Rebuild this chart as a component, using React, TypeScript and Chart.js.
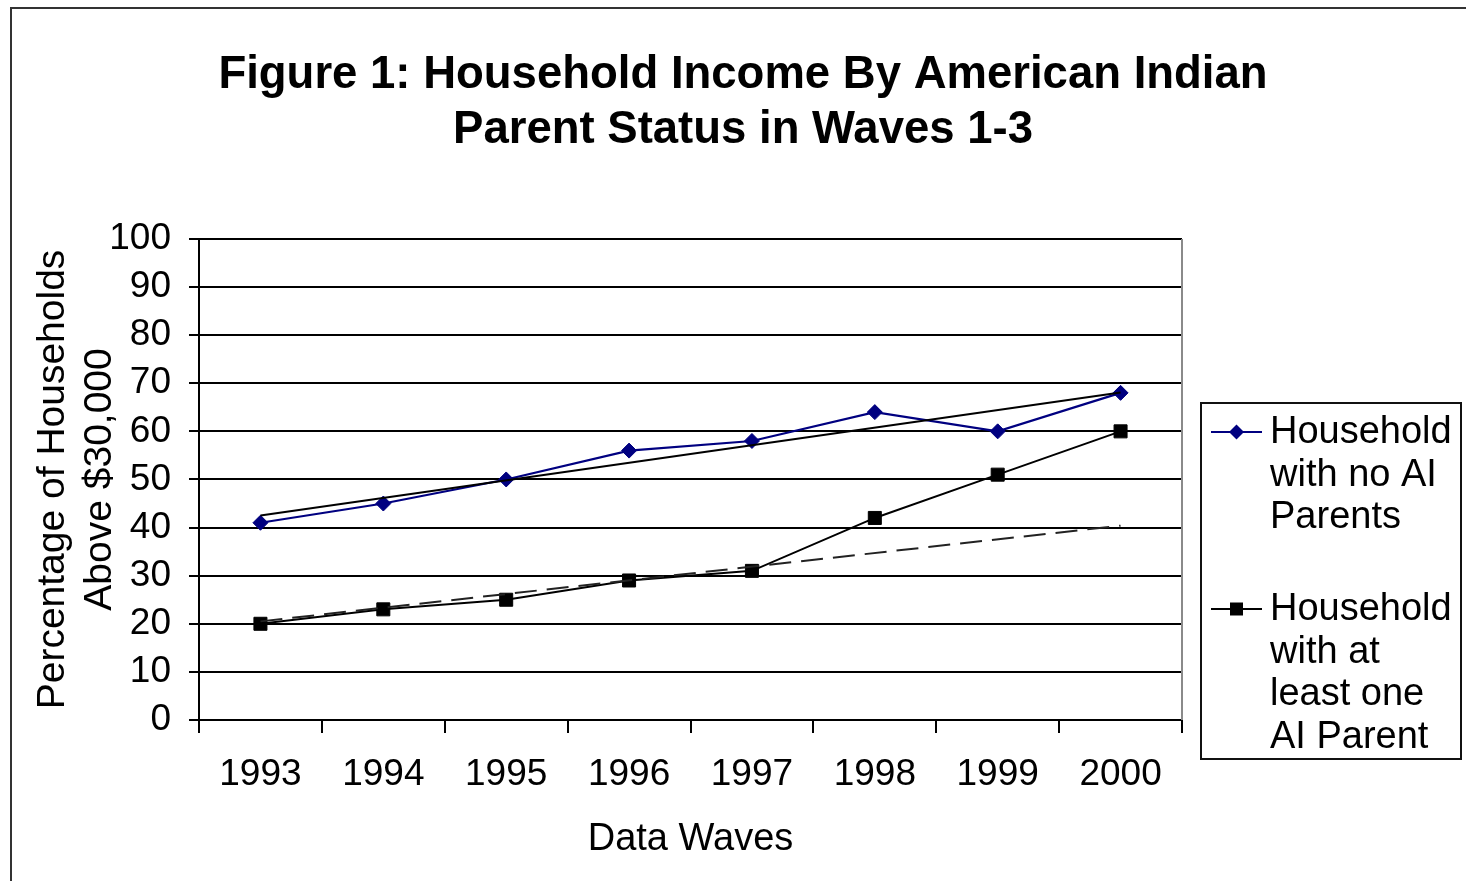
import React, { useEffect, useRef } from 'react';
import { Chart, registerables } from 'chart.js';

Chart.register(...registerables);

const years = ['1993', '1994', '1995', '1996', '1997', '1998', '1999', '2000'];
const noAIParents = [41, 45, 50, 56, 58, 64, 60, 68];
const atLeastOneAIParent = [20, 23, 25, 29, 31, 42, 51, 60];
const trendNoAIParents = [42.5, null, null, null, null, null, null, 68.1];
const trendAtLeastOneAIParent = [20.5, null, null, null, null, null, null, 40.4];
const titleLines = ['Figure 1: Household Income By American Indian', 'Parent Status in Waves 1-3'];
const yTitleLines = ['Percentage of Households', 'Above $30,000'];
const xTitle = 'Data Waves';
const legendNoAI = ['Household', 'with no AI', 'Parents'];
const legendAtLeastOne = ['Household', 'with at', 'least one', 'AI Parent'];

const FONT = "'Liberation Sans', Arial, Helvetica, sans-serif";
const NAVY = '#000080';

const framePlugin = {
  id: 'frame',
  beforeDraw(chart: any) {
    const { ctx, width, height } = chart;
    ctx.save();
    ctx.fillStyle = '#ffffff';
    ctx.fillRect(0, 0, width, height);
    ctx.strokeStyle = '#333333';
    ctx.lineWidth = 2;
    ctx.beginPath();
    ctx.moveTo(11, height + 5);
    ctx.lineTo(11, 8);
    ctx.lineTo(width + 5, 8);
    ctx.stroke();
    ctx.restore();
  },
  afterDraw(chart: any) {
    const { ctx, chartArea } = chart;
    ctx.save();
    // right plot border (grey)
    ctx.strokeStyle = '#8a8a8a';
    ctx.lineWidth = 2;
    ctx.beginPath();
    ctx.moveTo(chartArea.right, chartArea.top);
    ctx.lineTo(chartArea.right, chartArea.bottom);
    ctx.stroke();

    // legend
    const boxL = chartArea.right + 19;
    const boxT = 403;
    const boxR = boxL + 260;
    const boxB = 759;
    ctx.strokeStyle = '#111111';
    ctx.lineWidth = 2;
    ctx.strokeRect(boxL, boxT, boxR - boxL, boxB - boxT);

    const entries = [
      { lines: legendNoAI, color: NAVY, style: 'diamond', y: 432 },
      { lines: legendAtLeastOne, color: '#000000', style: 'square', y: 609 },
    ];
    ctx.font = `38px ${FONT}`;
    ctx.textBaseline = 'middle';
    ctx.textAlign = 'left';
    for (const e of entries) {
      const lx1 = boxL + 10;
      const lx2 = boxL + 61;
      const cx = (lx1 + lx2) / 2;
      ctx.strokeStyle = e.color;
      ctx.fillStyle = e.color;
      ctx.lineWidth = 2;
      ctx.beginPath();
      ctx.moveTo(lx1, e.y);
      ctx.lineTo(lx2, e.y);
      ctx.stroke();
      ctx.beginPath();
      if (e.style === 'diamond') {
        const r = 7.5;
        ctx.moveTo(cx - r, e.y);
        ctx.lineTo(cx, e.y - r);
        ctx.lineTo(cx + r, e.y);
        ctx.lineTo(cx, e.y + r);
        ctx.closePath();
      } else {
        const s = 6.5;
        ctx.rect(cx - s, e.y - s, 2 * s, 2 * s);
      }
      ctx.fill();
      ctx.fillStyle = '#000000';
      e.lines.forEach((t, i) => {
        ctx.fillText(t, boxL + 69, e.y + 1 + i * 42.5);
      });
    }
    ctx.restore();
  },
};

export default function App() {
  const ref = useRef<HTMLCanvasElement | null>(null);

  useEffect(() => {
    if (!ref.current) return;
    document.body.style.margin = '0';
    Chart.defaults.font.family = FONT;
    Chart.defaults.color = '#000000';
    const chart = new Chart(ref.current, {
      type: 'line',
      data: {
        labels: years,
        datasets: [
          {
            label: 'Trend (no AI Parents)',
            data: trendNoAIParents,
            borderColor: '#000000',
            borderWidth: 2,
            pointRadius: 0,
            spanGaps: true,
            fill: false,
          },
          {
            label: 'Trend (at least one AI Parent)',
            data: trendAtLeastOneAIParent,
            borderColor: '#222222',
            borderWidth: 2,
            borderDash: [22, 10],
            pointRadius: 0,
            spanGaps: true,
            fill: false,
          },
          {
            label: 'Household with no AI Parents',
            data: noAIParents,
            borderColor: NAVY,
            backgroundColor: NAVY,
            borderWidth: 2.2,
            pointStyle: 'rectRot',
            pointRadius: 7.5,
            pointBorderWidth: 1,
            pointBackgroundColor: NAVY,
            pointBorderColor: NAVY,
            fill: false,
          },
          {
            label: 'Household with at least one AI Parent',
            data: atLeastOneAIParent,
            borderColor: '#000000',
            backgroundColor: '#000000',
            borderWidth: 2,
            pointStyle: 'rect',
            pointRadius: 9.2,
            pointBorderWidth: 1,
            pointBackgroundColor: '#000000',
            pointBorderColor: '#000000',
            fill: false,
          },
        ],
      },
      options: {
        responsive: false,
        animation: false,
        layout: { padding: { top: 0, left: 20, right: 0, bottom: 0 } },
        plugins: {
          legend: { display: false },
          tooltip: { enabled: false },
          title: {
            display: true,
            text: titleLines,
            color: '#000000',
            font: { size: 45.5, weight: 'bold', family: FONT, lineHeight: 1.23 },
            padding: { top: 47, bottom: 80 },
          },
        },
        scales: {
          x: {
            type: 'category',
            offset: true,
            afterFit: (s: any) => {
              s.height = 161;
            },
            grid: {
              display: true,
              offset: true,
              drawOnChartArea: false,
              drawTicks: true,
              tickLength: 13,
              tickWidth: 2,
              color: '#000000',
              lineWidth: 2,
            },
            border: { display: true, color: '#000000', width: 2 },
            ticks: {
              color: '#000000',
              font: { size: 37, family: FONT },
              padding: 20,
              maxRotation: 0,
              autoSkip: false,
            },
            title: {
              display: true,
              text: xTitle,
              color: '#000000',
              font: { size: 38, family: FONT },
              padding: { top: 0, bottom: 19 },
            },
          },
          y: {
            min: 0,
            max: 100,
            afterFit: (s: any) => {
              s.width = 179;
            },
            grid: {
              color: '#000000',
              lineWidth: 2,
              drawTicks: true,
              tickLength: 10,
            },
            border: { display: true, color: '#000000', width: 2 },
            ticks: {
              stepSize: 10,
              color: '#000000',
              font: { size: 37, family: FONT },
              padding: 18,
            },
            title: {
              display: true,
              text: yTitleLines,
              color: '#000000',
              font: { size: 39, family: FONT },
              padding: { top: 10, bottom: 0 },
            },
          },
          ySpacer: {
            position: 'right',
            display: true,
            afterFit: (s: any) => {
              s.width = 284;
            },
            grid: { display: false, drawTicks: false },
            border: { display: false },
            ticks: { display: false },
          },
        },
      },
      plugins: [framePlugin],
    });
    return () => chart.destroy();
  }, []);

  return (
    <div style={{ position: 'fixed', left: 0, top: 0, width: 1466, height: 881, background: '#fff' }}>
      <canvas ref={ref} width={1466} height={881} style={{ display: 'block' }} />
    </div>
  );
}
